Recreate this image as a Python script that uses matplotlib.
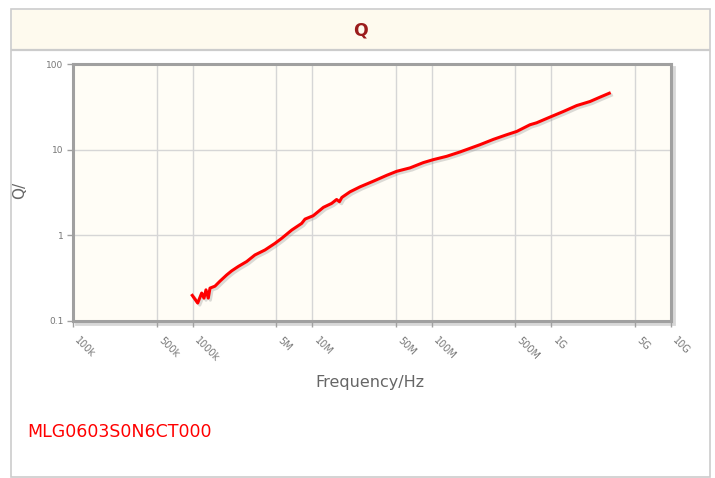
import matplotlib
matplotlib.use("Agg")
import matplotlib.pyplot as plt
import matplotlib.patches as mpatches
import matplotlib.patheffects as pe
from matplotlib.ticker import FixedLocator, NullLocator

# ---- data ----
freq_mhz = [0.994, 1.103, 1.191, 1.245, 1.294, 1.352, 1.398, 1.538, 1.695, 1.928,
            2.123, 2.41, 2.83, 3.32, 4.03, 4.89, 5.56, 6.74, 8.17, 8.71,
            10.2, 12.4, 14.55, 16.0, 16.9, 17.7, 20.7, 25.1, 32.4, 42.0,
            50.9, 65.8, 84.9, 103, 133, 172, 253, 327, 423, 513,
            662, 753, 973, 1259, 1626, 2104, 2547, 3048]
q_values = [0.199, 0.162, 0.212, 0.185, 0.231, 0.185, 0.242, 0.255, 0.292, 0.345,
            0.385, 0.433, 0.494, 0.590, 0.675, 0.807, 0.923, 1.152, 1.379, 1.547,
            1.694, 2.12, 2.36, 2.62, 2.47, 2.77, 3.22, 3.68, 4.28, 5.02,
            5.59, 6.13, 7.06, 7.65, 8.36, 9.40, 11.43, 13.18, 14.94, 16.32,
            19.53, 20.6, 24.0, 27.9, 32.7, 36.5, 41.0, 45.6]
x_ticks = [1e5, 5e5, 1e6, 5e6, 1e7, 5e7, 1e8, 5e8, 1e9, 5e9, 1e10]
x_tick_labels = ["100k", "500k", "1000k", "5M", "10M", "50M", "100M", "500M", "1G", "5G", "10G"]
y_ticks = [0.1, 1, 10, 100]
y_tick_labels = ["0.1", "1", "10", "100"]
title = "Q"
part_name = "MLG0603S0N6CT000"

W, H = 715, 478
fig = plt.figure(figsize=(W / 100, H / 100), dpi=100)
fig.patch.set_facecolor("white")

def fx(px):
    return px / W

def fy(py):
    return 1 - py / H

# outer box
fig.patches.append(mpatches.Rectangle((fx(11), fy(477)), fx(710) - fx(11), fy(9) - fy(477),
                                      transform=fig.transFigure, facecolor="white",
                                      edgecolor="#cccccc", lw=1.2, zorder=0))
# header band
fig.patches.append(mpatches.Rectangle((fx(12), fy(50)), fx(709) - fx(12), fy(10) - fy(50),
                                      transform=fig.transFigure, facecolor="#fefaee",
                                      edgecolor="none", zorder=1))
fig.add_artist(plt.Line2D([fx(12), fx(709)], [fy(50), fy(50)], transform=fig.transFigure,
                          color="#cccccc", lw=1.6, zorder=2))
fig.text(fx(360), fy(30), title, color="#9b1c1c", fontsize=12.5, fontweight="bold",
         ha="center", va="center")

# axes
L, R, T, B = 73, 671, 64, 321
# shadow for the frame
fig.patches.append(mpatches.Rectangle((fx(L + 3), fy(B + 3)), fx(R) - fx(L), fy(T) - fy(B),
                                      transform=fig.transFigure, facecolor="#d8d8d8",
                                      edgecolor="#d8d8d8", lw=2, zorder=2))
ax = fig.add_axes([fx(L), fy(B), fx(R) - fx(L), fy(T) - fy(B)], zorder=3)
ax.set_facecolor("#fffdf6")
ax.set_xscale("log")
ax.set_yscale("log")
ax.set_xlim(1e5, 1e10)
ax.set_ylim(0.1, 100)

ax.plot([f * 1e6 for f in freq_mhz], q_values, color="#ff0000", lw=2.2, solid_joinstyle="round",
        path_effects=[pe.SimpleLineShadow(offset=(1.5, -1.5), shadow_color="#999999", alpha=0.35),
                      pe.Normal()], zorder=5)

ax.xaxis.set_major_locator(FixedLocator(x_ticks))
ax.xaxis.set_minor_locator(NullLocator())
ax.yaxis.set_major_locator(FixedLocator(y_ticks))
ax.yaxis.set_minor_locator(NullLocator())
ax.set_xticklabels([])
ax.set_yticklabels(y_tick_labels)
ax.grid(True, color="#d6d6d6", lw=1.0)
ax.set_axisbelow(True)
for s in ax.spines.values():
    s.set_color("#a0a0a0")
    s.set_linewidth(2.2)
ax.tick_params(axis="both", colors="#a0a0a0", length=4, width=1, labelcolor="#777777", labelsize=6.5)
ax.tick_params(axis="y", pad=3)

for xv, lab in zip(x_ticks, x_tick_labels):
    ax.annotate(lab, xy=(xv, 0), xycoords=("data", "axes fraction"), xytext=(5, -10.5),
                textcoords="offset points", rotation=-45, ha="left", va="top",
                rotation_mode="anchor", fontsize=7, color="#777777")

fig.text(fx(370), fy(382), "Frequency/Hz", color="#666666", fontsize=11.5,
         ha="center", va="center")
fig.text(fx(20), fy(190), "Q/", color="#666666", fontsize=11, rotation=90,
         ha="center", va="center")

fig.text(fx(27), fy(432), part_name, color="#ff0000", fontsize=12.5,
         family=["Liberation Sans Narrow", "DejaVu Sans"], ha="left", va="center")

fig.savefig("out.png", dpi=100, facecolor=fig.get_facecolor())
